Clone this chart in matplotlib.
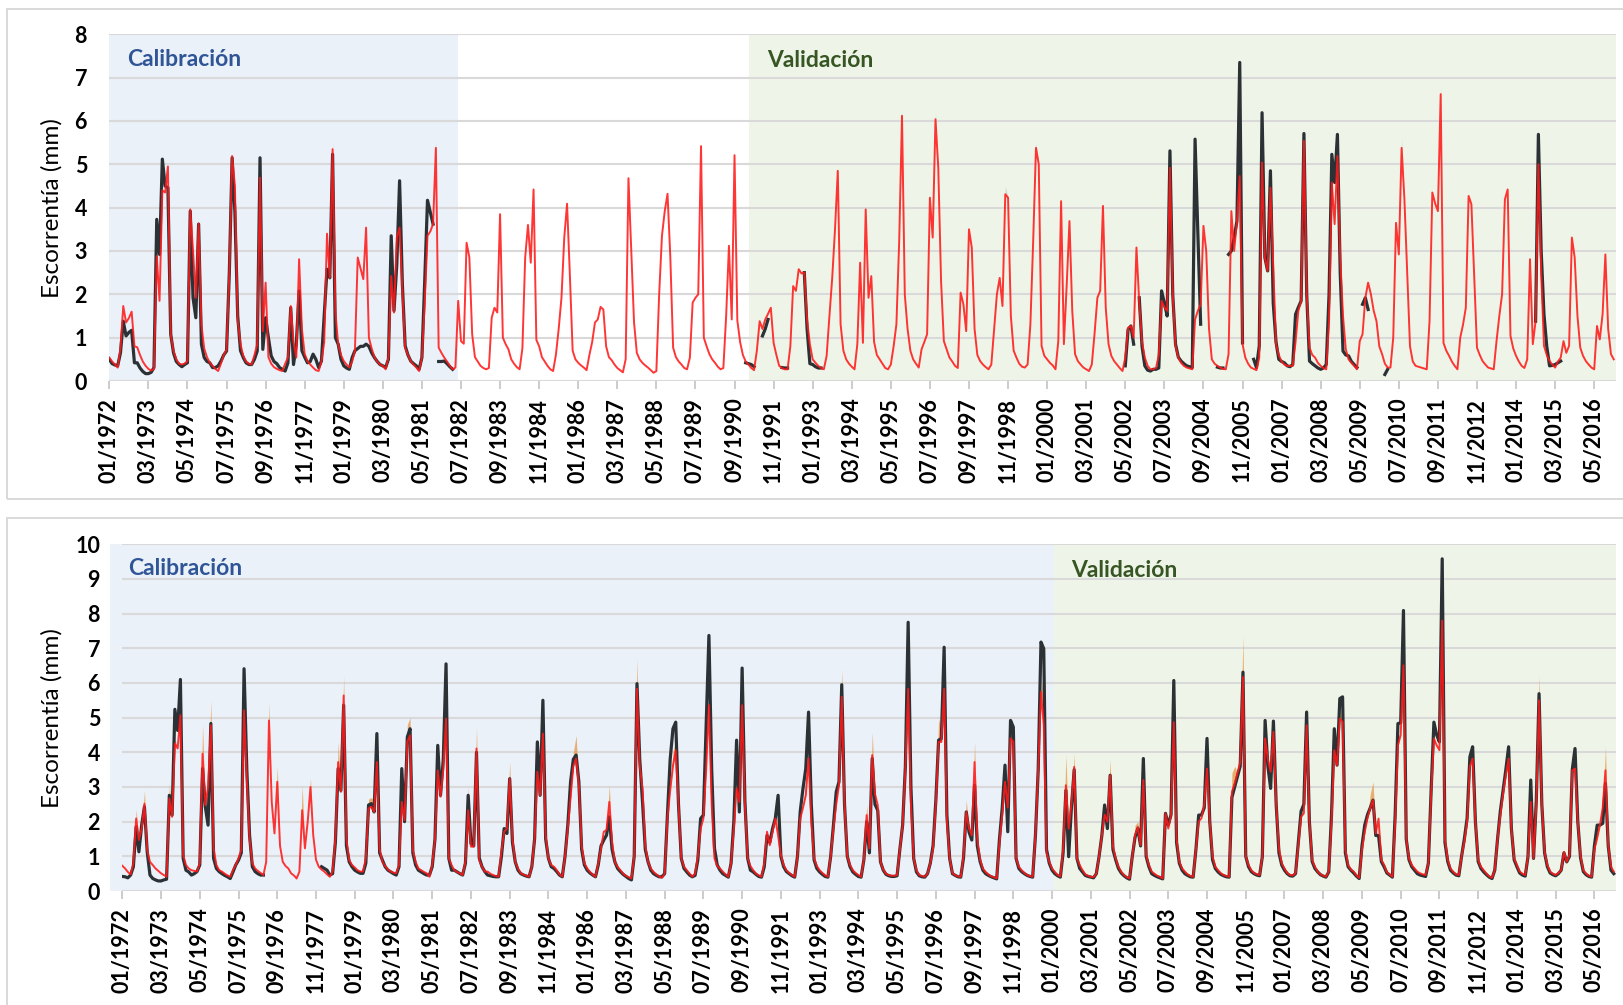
import numpy as np
import matplotlib.pyplot as plt
from matplotlib.patches import Rectangle

nan = np.nan

# Escorrentía mensual (mm), enero 1972 - diciembre 2016, una fila por año
sim_sup = [
    0.54, 0.45, 0.38, 0.31, 0.75, 1.73, 1.35, 1.45, 1.60, 0.80, 0.78, 0.60,  # 1972
    0.45, 0.35, 0.28, 0.24, 0.28, 2.88, 1.85, 4.40, 4.35, 4.95, 1.08, 0.70,
    0.50, 0.40, 0.38, 0.40, 0.46, 3.96, 3.00, 1.92, 3.63, 1.30, 0.75, 0.55,
    0.42, 0.35, 0.28, 0.23, 0.40, 0.60, 0.72, 2.50, 5.19, 4.50, 1.40, 0.85,
    0.58, 0.45, 0.40, 0.38, 0.60, 0.85, 4.69, 1.15, 2.27, 0.55, 0.40, 0.32,  # 1976
    0.28, 0.25, 0.23, 0.40, 0.54, 1.73, 0.90, 0.54, 2.81, 1.20, 0.62, 0.46,
    0.38, 0.31, 0.25, 0.23, 0.45, 0.90, 3.40, 2.38, 5.35, 1.60, 0.85, 0.60,
    0.46, 0.38, 0.31, 0.45, 0.70, 2.85, 2.60, 2.35, 3.54, 1.00, 0.75, 0.55,
    0.45, 0.38, 0.35, 0.27, 0.54, 2.42, 1.58, 3.31, 3.54, 2.08, 0.77, 0.60,  # 1980
    0.46, 0.38, 0.31, 0.23, 0.54, 1.80, 3.35, 3.45, 3.62, 5.38, 0.77, 0.65,
    0.54, 0.45, 0.35, 0.27, 0.31, 1.85, 0.92, 0.86, 3.19, 2.85, 1.08, 0.55,
    0.45, 0.35, 0.30, 0.27, 0.30, 1.46, 1.69, 1.58, 3.85, 1.00, 0.85, 0.73,
    0.50, 0.40, 0.32, 0.27, 0.75, 2.85, 3.60, 2.73, 4.42, 0.95, 0.80, 0.55,  # 1984
    0.45, 0.35, 0.27, 0.23, 0.60, 1.20, 1.92, 3.31, 4.09, 2.46, 0.70, 0.50,
    0.42, 0.36, 0.31, 0.25, 0.60, 0.90, 1.35, 1.42, 1.71, 1.65, 0.80, 0.55,
    0.48, 0.38, 0.30, 0.25, 0.20, 0.50, 4.68, 3.00, 1.35, 0.65, 0.50, 0.42,
    0.36, 0.31, 0.25, 0.19, 0.23, 2.00, 3.35, 3.92, 4.32, 2.85, 0.77, 0.55,  # 1988
    0.45, 0.38, 0.30, 0.27, 0.54, 1.81, 1.92, 2.00, 5.42, 1.00, 0.80, 0.62,
    0.50, 0.42, 0.33, 0.27, 0.30, 1.50, 3.12, 1.42, 5.21, 1.40, 0.90, 0.60,
    0.45, 0.38, 0.30, 0.25, 0.70, 1.38, 1.20, 1.42, 1.55, 1.69, 0.88, 0.60,
    0.35, 0.30, 0.27, 0.27, 0.80, 2.19, 2.08, 2.58, 2.48, 2.50, 1.40, 0.85,  # 1992
    0.50, 0.42, 0.35, 0.30, 0.27, 0.58, 1.50, 2.38, 3.50, 4.85, 1.31, 0.70,
    0.50, 0.40, 0.33, 0.27, 0.85, 2.73, 0.88, 3.96, 1.92, 2.42, 0.90, 0.60,
    0.50, 0.40, 0.30, 0.27, 0.38, 0.80, 1.31, 3.23, 6.12, 2.00, 1.20, 0.70,
    0.50, 0.40, 0.31, 0.73, 0.90, 1.08, 4.23, 3.31, 6.04, 4.92, 2.30, 0.92,  # 1996
    0.73, 0.54, 0.45, 0.35, 0.30, 2.04, 1.77, 1.15, 3.50, 3.08, 1.20, 0.60,
    0.46, 0.38, 0.32, 0.27, 0.38, 1.20, 2.00, 2.38, 1.73, 4.31, 4.23, 1.50,
    0.70, 0.54, 0.40, 0.33, 0.31, 0.38, 1.31, 3.23, 5.38, 5.00, 0.81, 0.58,
    0.50, 0.42, 0.36, 0.27, 0.92, 4.15, 0.85, 2.20, 3.69, 1.62, 0.62, 0.46,  # 2000
    0.38, 0.31, 0.27, 0.23, 0.38, 1.10, 1.92, 2.08, 4.04, 1.69, 0.85, 0.58,
    0.46, 0.38, 0.30, 0.23, 0.54, 1.23, 1.27, 1.00, 3.08, 1.81, 0.90, 0.54,
    0.35, 0.27, 0.27, 0.30, 0.60, 1.85, 1.70, 1.62, 4.92, 2.00, 0.81, 0.54,
    0.42, 0.35, 0.31, 0.29, 0.27, 1.42, 1.62, 1.77, 3.58, 3.00, 1.20, 0.50,  # 2004
    0.40, 0.35, 0.31, 0.28, 0.27, 0.62, 3.92, 3.00, 3.69, 4.73, 0.85, 0.54,
    0.40, 0.31, 0.28, 0.25, 0.54, 5.04, 2.85, 2.54, 4.46, 2.69, 0.85, 0.60,
    0.45, 0.38, 0.35, 0.35, 0.35, 0.90, 1.62, 1.85, 5.54, 2.00, 0.77, 0.60,
    0.54, 0.42, 0.35, 0.30, 0.27, 1.38, 4.58, 3.62, 5.19, 2.85, 1.50, 0.73,  # 2008
    0.50, 0.42, 0.35, 0.27, 0.92, 1.08, 1.92, 2.27, 2.00, 1.62, 1.38, 0.80,
    0.62, 0.40, 0.31, 0.31, 1.00, 3.65, 2.92, 5.38, 4.20, 2.50, 0.80, 0.45,
    0.35, 0.33, 0.31, 0.29, 0.27, 1.38, 4.35, 4.10, 3.92, 6.62, 0.88, 0.70,
    0.58, 0.45, 0.35, 0.27, 1.00, 1.30, 1.69, 4.27, 4.08, 2.40, 0.77, 0.60,  # 2012
    0.46, 0.38, 0.31, 0.29, 0.27, 0.92, 1.50, 2.00, 4.19, 4.42, 1.04, 0.75,
    0.58, 0.45, 0.35, 0.30, 0.50, 2.81, 0.85, 1.38, 5.00, 2.50, 0.81, 0.60,
    0.46, 0.38, 0.31, 0.45, 0.54, 0.92, 0.65, 0.81, 3.31, 2.85, 1.50, 0.77,
    0.58, 0.46, 0.38, 0.31, 0.27, 1.27, 0.96, 1.54, 2.92, 1.20, 0.62, 0.50,  # 2016
]

obs_sup = [
    0.50, 0.40, 0.37, 0.35, 0.65, 1.38, 1.04, 1.12, 1.17, 0.42, 0.42, 0.30,  # 1972
    0.22, 0.17, 0.17, 0.20, 0.31, 3.73, 2.92, 5.12, 4.50, 4.46, 1.08, 0.65,
    0.45, 0.38, 0.33, 0.38, 0.42, 3.92, 1.92, 1.46, 3.62, 0.85, 0.54, 0.45,
    0.42, 0.31, 0.31, 0.35, 0.46, 0.60, 0.69, 2.50, 5.15, 3.90, 1.50, 0.70,
    0.54, 0.42, 0.38, 0.38, 0.50, 0.69, 5.15, 0.73, 1.46, 1.00, 0.58, 0.45,  # 1976
    0.40, 0.31, 0.27, 0.23, 0.42, 1.69, 0.38, 0.85, 2.08, 0.70, 0.55, 0.42,
    0.45, 0.62, 0.50, 0.31, 0.46, 1.50, 2.58, 2.38, 5.23, 1.00, 0.85, 0.50,
    0.35, 0.30, 0.27, 0.54, 0.70, 0.75, 0.80, 0.80, 0.85, 0.80, 0.65, 0.54,
    0.45, 0.38, 0.35, 0.31, 0.50, 3.35, 1.62, 2.69, 4.62, 2.23, 0.81, 0.60,  # 1980
    0.46, 0.40, 0.35, 0.27, 0.54, 2.30, 4.17, 3.90, 3.62, nan, 0.45, 0.45,
    0.46, 0.40, 0.33, 0.27, nan, nan, nan, nan, nan, nan, nan, nan,
    *[nan] * 12 * 8,                                                          # 1983-1990
    0.42, 0.40, 0.38, 0.33, nan, nan, 1.04, 1.20, 1.42, nan, nan, nan,        # 1991
    nan, 0.31, 0.30, 0.30, nan, nan, nan, nan, nan, 2.50, 1.20, 0.40,
    0.38, 0.33, 0.30, 0.30, nan, nan, nan, nan, nan, nan, nan, nan,
    *[nan] * 12 * 8,                                                          # 1994-2001
    nan, nan, nan, nan, 0.35, 1.19, 1.27, 0.85, nan, 1.92, 0.80, 0.35,        # 2002
    0.25, 0.23, 0.27, 0.27, 0.30, 2.08, 1.80, 1.50, 5.31, 2.00, 0.85, 0.55,
    0.46, 0.40, 0.35, 0.33, 0.31, 5.58, 3.40, 1.31, nan, nan, nan, nan,
    nan, 0.32, 0.30, 0.30, nan, 2.92, 3.00, 3.31, 3.69, 7.35, 0.88, nan,
    nan, nan, 0.50, 0.31, 0.81, 6.19, 2.85, 2.54, 4.85, 1.80, 0.90, 0.50,    # 2006
    0.45, 0.42, 0.35, 0.33, 0.38, 1.54, 1.70, 1.85, 5.71, 2.00, 0.46, 0.40,
    0.35, 0.30, 0.27, 0.30, 0.38, 2.00, 5.23, 4.58, 5.69, 2.50, 0.69, 0.60,
    0.58, 0.45, 0.38, 0.31, nan, 1.77, 1.92, 1.65, nan, nan, nan, nan,
    nan, 0.15, 0.27, nan, nan, nan, nan, nan, nan, nan, nan, nan,            # 2010
    *[nan] * 12 * 3,                                                          # 2011-2013
    nan, nan, nan, nan, nan, nan, nan, 1.38, 5.69, 3.00, 1.54, 0.80,          # 2014
    0.35, 0.36, 0.38, 0.42, 0.46, nan, nan, nan, nan, nan, nan, nan,
    *[nan] * 12,                                                              # 2016
]

sim_inf = [
    0.73, 0.65, 0.55, 0.48, 0.80, 2.09, 1.47, 1.80, 2.52, 1.18, 0.84, 0.75,  # 1972
    0.65, 0.58, 0.51, 0.46, 0.41, 2.67, 2.14, 4.25, 4.11, 5.07, 1.04, 0.75,
    0.65, 0.60, 0.58, 0.56, 0.80, 3.96, 2.48, 3.00, 4.78, 1.23, 0.75, 0.60,
    0.56, 0.50, 0.45, 0.41, 0.60, 0.75, 0.94, 1.20, 5.21, 3.20, 1.50, 0.80,
    0.65, 0.58, 0.52, 0.46, 0.84, 4.92, 2.57, 1.66, 3.15, 1.30, 0.84, 0.72,  # 1976
    0.65, 0.51, 0.45, 0.36, 0.56, 2.33, 1.23, 2.00, 3.00, 1.61, 0.90, 0.70,
    0.62, 0.56, 0.48, 0.41, 0.56, 1.50, 3.72, 2.86, 5.64, 1.50, 0.89, 0.75,
    0.68, 0.60, 0.56, 0.56, 0.94, 2.38, 2.43, 2.28, 3.72, 1.20, 0.84, 0.72,
    0.62, 0.56, 0.53, 0.51, 0.75, 2.57, 2.04, 4.30, 4.49, 1.20, 0.84, 0.65,  # 1980
    0.60, 0.55, 0.51, 0.41, 0.75, 1.50, 3.48, 2.72, 3.50, 4.97, 0.94, 0.75,
    0.60, 0.55, 0.51, 0.46, 0.84, 2.33, 1.28, 1.28, 4.11, 0.89, 0.70, 0.56,
    0.56, 0.50, 0.46, 0.43, 0.41, 1.13, 1.71, 1.80, 3.24, 1.50, 0.84, 0.65,
    0.51, 0.47, 0.44, 0.41, 0.70, 1.50, 3.44, 2.76, 4.54, 1.60, 0.94, 0.75,  # 1984
    0.70, 0.60, 0.48, 0.41, 1.00, 1.80, 2.70, 3.60, 3.82, 3.05, 1.30, 0.80,
    0.65, 0.55, 0.47, 0.41, 0.80, 1.23, 1.71, 1.76, 2.57, 1.40, 0.84, 0.70,
    0.60, 0.50, 0.44, 0.40, 0.36, 1.00, 5.83, 3.60, 2.96, 1.30, 0.84, 0.65,
    0.55, 0.48, 0.42, 0.38, 0.50, 2.09, 2.90, 3.60, 4.06, 2.50, 0.94, 0.70,  # 1988
    0.60, 0.50, 0.41, 0.50, 1.00, 1.80, 2.09, 3.50, 5.36, 2.50, 0.94, 0.72,
    0.65, 0.56, 0.48, 0.41, 0.80, 1.80, 2.96, 2.57, 5.36, 2.50, 0.94, 0.72,
    0.60, 0.50, 0.45, 0.41, 0.80, 1.71, 1.32, 1.70, 2.09, 1.60, 1.04, 0.75,
    0.60, 0.52, 0.46, 0.41, 1.00, 2.09, 2.40, 2.76, 3.82, 2.00, 0.94, 0.72,  # 1992
    0.60, 0.52, 0.45, 0.41, 1.00, 1.80, 2.50, 3.05, 5.60, 2.50, 1.00, 0.75,
    0.60, 0.52, 0.46, 0.41, 0.90, 2.19, 1.23, 3.92, 2.80, 2.48, 0.84, 0.62,
    0.50, 0.46, 0.44, 0.44, 0.46, 1.20, 1.90, 3.53, 5.83, 2.50, 0.94, 0.60,
    0.46, 0.43, 0.41, 0.50, 0.80, 1.23, 2.50, 4.30, 4.30, 5.83, 2.00, 0.94,  # 1996
    0.51, 0.46, 0.42, 0.41, 1.00, 2.28, 1.80, 1.60, 3.72, 1.50, 0.90, 0.65,
    0.55, 0.48, 0.42, 0.40, 0.36, 1.40, 2.20, 3.15, 2.40, 4.40, 4.30, 0.94,
    0.70, 0.60, 0.52, 0.46, 0.43, 0.41, 1.60, 3.50, 5.74, 4.80, 1.10, 0.84,
    0.65, 0.55, 0.46, 0.42, 1.20, 3.05, 1.80, 2.50, 3.58, 0.94, 0.75, 0.60,  # 2000
    0.48, 0.44, 0.41, 0.40, 0.50, 1.00, 1.60, 2.20, 2.00, 3.34, 1.30, 0.94,
    0.70, 0.55, 0.46, 0.40, 0.36, 1.00, 1.61, 1.85, 1.32, 3.20, 1.04, 0.75,
    0.56, 0.50, 0.44, 0.41, 0.36, 2.24, 1.80, 2.19, 4.87, 1.50, 0.84, 0.65,
    0.56, 0.48, 0.43, 0.41, 1.20, 2.00, 2.10, 2.50, 3.53, 2.00, 1.00, 0.70,  # 2004
    0.60, 0.51, 0.46, 0.43, 0.41, 2.86, 3.10, 3.40, 3.72, 6.17, 1.00, 0.75,
    0.60, 0.52, 0.48, 0.46, 0.99, 4.40, 3.80, 3.44, 4.59, 2.50, 1.23, 0.80,
    0.65, 0.52, 0.46, 0.45, 0.51, 1.32, 2.14, 2.24, 4.78, 2.00, 0.89, 0.70,
    0.56, 0.48, 0.44, 0.41, 0.56, 2.00, 4.06, 3.63, 4.97, 4.88, 1.20, 0.75,  # 2008
    0.62, 0.56, 0.45, 0.38, 1.20, 1.70, 2.10, 2.40, 2.62, 1.66, 2.09, 0.90,
    0.75, 0.55, 0.48, 0.41, 2.00, 4.20, 4.50, 6.51, 1.50, 0.94, 0.75, 0.65,
    0.56, 0.51, 0.48, 0.46, 0.80, 2.80, 4.40, 4.20, 4.06, 7.80, 1.50, 0.90,
    0.65, 0.55, 0.48, 0.46, 1.00, 1.42, 2.00, 3.60, 3.82, 2.00, 0.89, 0.70,  # 2012
    0.60, 0.50, 0.42, 0.38, 0.60, 1.50, 2.19, 2.80, 3.34, 3.82, 1.80, 0.94,
    0.75, 0.56, 0.50, 0.46, 0.99, 2.57, 0.94, 2.50, 5.50, 2.50, 1.13, 0.75,
    0.56, 0.50, 0.46, 0.52, 0.60, 1.13, 0.84, 1.04, 3.48, 3.53, 2.00, 1.00,
    0.60, 0.50, 0.44, 0.41, 1.20, 1.52, 1.90, 2.40, 3.48, 1.32, 0.70, 0.56,  # 2016
]

obs_inf = [
    0.42, 0.41, 0.38, 0.46, 0.70, 1.85, 1.13, 1.90, 2.43, 1.13, 0.46, 0.36,  # 1972
    0.32, 0.29, 0.29, 0.32, 0.34, 2.76, 2.19, 5.24, 4.63, 6.10, 0.94, 0.60,
    0.55, 0.46, 0.50, 0.56, 0.75, 3.53, 2.43, 1.90, 4.83, 0.94, 0.65, 0.56,
    0.50, 0.45, 0.41, 0.36, 0.55, 0.75, 0.89, 1.10, 6.41, 3.50, 1.60, 0.70,
    0.56, 0.50, 0.46, 0.46, nan, nan, nan, nan, nan, nan, nan, nan,          # 1976
    *[nan] * 12,
    0.70, 0.65, 0.60, 0.46, 0.50, 1.40, 3.53, 2.90, 5.36, 1.30, 0.84, 0.70,
    0.60, 0.55, 0.51, 0.51, 0.80, 2.48, 2.52, 2.28, 4.54, 1.10, 0.89, 0.70,
    0.60, 0.55, 0.50, 0.46, 0.70, 3.53, 2.00, 4.44, 4.68, 1.10, 0.75, 0.60,  # 1980
    0.55, 0.50, 0.46, 0.46, 0.70, 1.50, 4.20, 2.76, 3.80, 6.55, 0.94, 0.60,
    0.60, 0.55, 0.50, 0.46, 0.80, 2.76, 1.37, 1.30, 4.00, 0.95, 0.70, 0.56,
    0.46, 0.44, 0.42, 0.41, 0.41, 0.99, 1.80, 1.66, 3.24, 1.40, 0.84, 0.60,
    0.50, 0.46, 0.43, 0.41, 0.70, 1.50, 4.30, 2.76, 5.50, 1.50, 0.94, 0.70,  # 1984
    0.65, 0.56, 0.46, 0.41, 1.00, 1.90, 3.15, 3.80, 3.92, 3.15, 1.20, 0.75,
    0.60, 0.52, 0.46, 0.41, 0.75, 1.30, 1.47, 1.61, 2.14, 1.20, 0.84, 0.65,
    0.56, 0.48, 0.42, 0.36, 0.32, 1.00, 5.98, 3.80, 2.57, 1.20, 0.84, 0.60,
    0.50, 0.45, 0.41, 0.41, 0.50, 2.19, 3.80, 4.68, 4.87, 2.50, 0.94, 0.65,  # 1988
    0.55, 0.46, 0.41, 0.45, 0.90, 2.09, 2.19, 4.80, 7.37, 3.50, 1.23, 0.75,
    0.60, 0.50, 0.45, 0.40, 0.80, 2.00, 4.35, 2.28, 6.43, 2.60, 0.94, 0.60,
    0.55, 0.48, 0.42, 0.40, 0.70, 1.60, 1.40, 1.80, 2.10, 2.76, 1.00, 0.70,
    0.56, 0.50, 0.44, 0.40, 1.00, 2.30, 2.96, 3.53, 5.16, 2.50, 0.90, 0.65,  # 1992
    0.55, 0.48, 0.42, 0.40, 1.00, 1.90, 2.86, 3.15, 5.95, 2.50, 1.00, 0.70,
    0.55, 0.48, 0.42, 0.40, 0.90, 2.00, 1.10, 3.82, 2.50, 2.33, 0.84, 0.60,
    0.48, 0.44, 0.42, 0.42, 0.44, 1.20, 1.90, 3.60, 7.75, 3.00, 0.94, 0.55,
    0.44, 0.41, 0.40, 0.50, 0.80, 1.30, 2.60, 4.35, 4.40, 7.03, 2.20, 0.94,  # 1996
    0.50, 0.45, 0.41, 0.40, 0.95, 2.28, 1.70, 1.47, 3.05, 1.30, 0.85, 0.60,
    0.50, 0.45, 0.41, 0.38, 0.35, 1.50, 2.40, 3.63, 1.71, 4.92, 4.73, 0.94,
    0.65, 0.56, 0.50, 0.45, 0.42, 0.40, 1.60, 3.50, 7.18, 6.99, 1.20, 0.80,
    0.60, 0.50, 0.44, 0.40, 1.10, 2.90, 0.99, 2.40, 3.50, 0.94, 0.65, 0.55,  # 2000
    0.45, 0.42, 0.40, 0.38, 0.50, 1.00, 1.60, 2.48, 1.80, 3.34, 1.20, 0.90,
    0.65, 0.52, 0.44, 0.38, 0.34, 1.00, 1.55, 1.80, 1.30, 3.82, 1.00, 0.70,
    0.50, 0.45, 0.41, 0.38, 0.35, 2.24, 1.90, 2.20, 6.07, 1.40, 0.80, 0.60,
    0.50, 0.45, 0.41, 0.40, 1.20, 2.19, 2.19, 2.40, 4.40, 2.00, 0.90, 0.65,  # 2004
    0.55, 0.48, 0.44, 0.41, 0.40, 2.70, 3.00, 3.30, 3.60, 6.31, 1.00, 0.70,
    0.56, 0.50, 0.46, 0.44, 0.99, 4.92, 3.60, 2.96, 4.90, 2.50, 1.10, 0.75,
    0.60, 0.50, 0.44, 0.43, 0.50, 1.40, 2.30, 2.50, 5.16, 2.00, 0.85, 0.65,
    0.55, 0.47, 0.43, 0.40, 0.55, 2.20, 4.68, 3.63, 5.55, 5.60, 1.10, 0.70,  # 2008
    0.60, 0.52, 0.43, 0.36, 1.30, 1.90, 2.20, 2.40, 2.62, 1.60, 1.60, 0.85,
    0.70, 0.52, 0.46, 0.40, 2.20, 4.83, 4.85, 8.09, 1.50, 0.90, 0.70, 0.60,
    0.50, 0.46, 0.44, 0.42, 0.80, 2.90, 4.87, 4.50, 4.30, 9.58, 1.40, 0.85,
    0.60, 0.52, 0.46, 0.44, 1.00, 1.50, 2.10, 3.87, 4.16, 2.00, 0.85, 0.65,  # 2012
    0.55, 0.47, 0.40, 0.36, 0.60, 1.50, 2.30, 2.90, 3.50, 4.16, 1.80, 0.90,
    0.70, 0.52, 0.46, 0.43, 0.99, 3.20, 0.94, 2.60, 5.69, 2.50, 1.10, 0.70,
    0.52, 0.47, 0.44, 0.50, 0.60, 1.10, 0.84, 1.00, 3.50, 4.11, 2.00, 0.95,
    0.56, 0.47, 0.42, 0.40, 1.30, 1.90, 1.90, 1.95, 3.10, 1.30, 0.60, 0.50,  # 2016
]

# techo de la banda de incertidumbre donde sobresale de la simulación (mes -> mm)
banda_sup = {80: 5.55, 117: 5.55, 284: 6.30, 296: 6.20, 321: 4.50, 332: 5.50,
             463: 5.60, 477: 6.85}
banda_inf = {5: 2.35, 8: 2.90, 17: 3.10, 19: 4.40, 21: 5.40, 29: 4.80, 32: 5.50,
             44: 5.50, 53: 5.45, 56: 3.60, 65: 3.05, 68: 3.25, 78: 4.30, 80: 6.20,
             89: 2.65, 90: 2.70, 91: 2.60, 92: 3.90, 103: 4.80, 104: 5.00,
             114: 3.90, 117: 5.30, 125: 3.00, 128: 4.75, 140: 3.72, 152: 4.90,
             163: 4.00, 164: 4.49, 176: 3.05, 186: 6.70, 199: 4.00, 200: 4.40,
             212: 5.80, 224: 5.80, 236: 2.50, 247: 3.10, 248: 4.20, 260: 6.41,
             269: 2.50, 271: 4.59, 283: 3.80, 284: 6.40, 295: 4.97, 296: 4.60,
             297: 6.20, 305: 2.62, 308: 4.30, 319: 3.40, 321: 4.80, 333: 6.31,
             341: 3.92, 344: 3.96, 357: 3.80, 366: 1.90, 367: 2.00, 369: 3.60,
             380: 5.20, 392: 3.90, 401: 3.40, 402: 3.60, 404: 4.10, 405: 7.37,
             413: 4.70, 416: 4.90, 428: 5.31, 438: 4.30, 440: 5.20, 451: 2.80,
             452: 3.15, 461: 4.50, 463: 6.90, 477: 8.00, 488: 4.10, 501: 4.10,
             512: 6.22, 525: 3.90, 533: 1.90, 536: 4.16}

meses = [f"{m:02d}/{a}" for a in range(1972, 2017) for m in range(1, 13)]
paso = 14

# periodos de calibración / validación (índice de mes)
cal_sup, val_sup = (0, 125.1), (229.2, 539.7)
cal_inf, val_inf = (-4.4, 336.8), (336.8, 539.7)

AZUL_FONDO = "#ebf1f9"
VERDE_FONDO = "#eef5e8"
GRIS = "#d9d9d9"
OSCURO = "#2b3134"
ROJO = "#ff1a1a"

plt.rcParams["font.family"] = ["Lato", "DejaVu Sans"]

W, H = 1623, 1005
fig = plt.figure(figsize=(W / 100, H / 100), dpi=100)


def caja(left, top, right, bottom):
    return [left / W, 1 - bottom / H, (right - left) / W, (bottom - top) / H]


# marcos de cada panel
for top, bottom in [(9.3, 499.3), (518.3, 1015)]:
    fig.add_artist(Rectangle((7.3 / W, 1 - bottom / H), (1640 - 7.3) / W,
                             (bottom - top) / H, transform=fig.transFigure,
                             fill=False, ec=GRIS, lw=1.4))


def panel(ax, sim, obs, banda, banda_color, ymax, cal, val, pos_cal, pos_val,
          x_etiqueta):
    x = np.arange(len(sim))
    sim = np.array(sim, dtype=float)
    obs = np.array(obs, dtype=float)

    ax.axvspan(*cal, color=AZUL_FONDO, lw=0, zorder=0, clip_on=False)
    ax.axvspan(*val, color=VERDE_FONDO, lw=0, zorder=0)

    techo = sim.copy()
    for k, v in banda.items():
        techo[k] = v
    ax.fill_between(x, sim, techo, color=banda_color, alpha=0.7, lw=0, zorder=2)

    ax.plot(x, obs, color=OSCURO, lw=2.3, zorder=3, solid_joinstyle="round")
    ax.plot(x, sim, color=ROJO, lw=1.4, alpha=0.88, zorder=4)

    ax.set_xlim(0, 539.7)
    ax.set_ylim(0, ymax)
    ax.set_yticks(range(0, ymax + 1))
    ax.set_xticks(range(0, len(sim), paso))
    ax.set_xticklabels(meses[::paso], rotation=90, fontsize=15.5,
                       fontweight="bold")
    for t in ax.get_yticklabels():
        t.set_fontsize(15.5)
        t.set_fontweight("bold")
    ax.set_axisbelow(True)
    ax.grid(axis="y", color=GRIS, lw=1.5)
    for s in ax.spines.values():
        s.set_visible(False)
    ax.tick_params(axis="x", direction="out", length=5.5, width=1.1,
                   color="#bfbfbf", pad=6.5)
    ax.tick_params(axis="y", length=0, pad=16)
    ax.set_ylabel("Escorrentía (mm)", fontsize=17.5)
    ax.yaxis.set_label_coords(x_etiqueta, 0.5)

    ax.text(*pos_cal, "Calibración", color="#2f5597", fontsize=16.5,
            fontweight="bold", va="center", ha="left", zorder=5)
    ax.text(*pos_val, "Validación", color="#375623", fontsize=16.5,
            fontweight="bold", va="center", ha="left", zorder=5)


ax1 = fig.add_axes(caja(109.3, 34.3, 1615.7, 381.0))
panel(ax1, sim_sup, obs_sup, banda_sup, "#c8c8c8", 8, cal_sup, val_sup,
      (6.3, 7.43), (235.6, 7.39), -0.0307)

ax2 = fig.add_axes(caja(122.3, 544.3, 1615.7, 891.0))
panel(ax2, sim_inf, obs_inf, banda_inf, "#e8913c", 10, cal_inf, val_inf,
      (2.1, 9.29), (342.9, 9.25), -0.0397)

fig.savefig("out.png", dpi=100)
